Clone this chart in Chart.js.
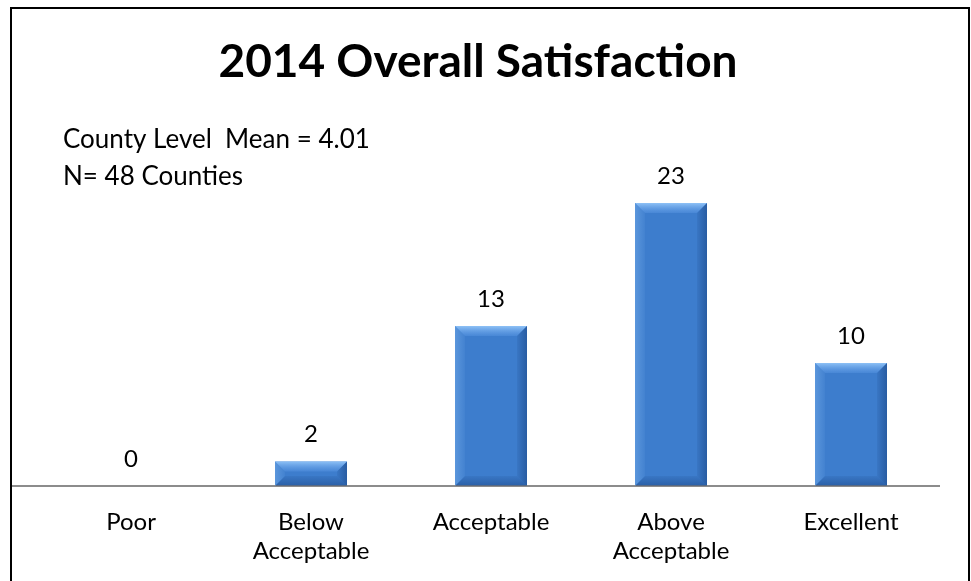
<!DOCTYPE html>
<html>
<head>
<meta charset="utf-8">
<script src="https://cdn.jsdelivr.net/npm/chart.js@4"></script>
<style>
  html, body { margin: 0; padding: 0; background: #fff; }
  #wrap { position: relative; width: 971px; height: 581px; }
</style>
</head>
<body>
<div id="wrap"><canvas id="satChart" width="971" height="581"></canvas></div>
<script>
// chart data
const categories = ['Poor', ['Below', 'Acceptable'], 'Acceptable', ['Above', 'Acceptable'], 'Excellent'];
const counts = [0, 2, 13, 23, 10];
const titleText = '2014 Overall Satisfaction';
const noteLines = ['County Level  Mean = 4.01', 'N= 48 Counties'];

const FONT = 'Lato, "Open Sans", sans-serif';

// frame, title, axis line, notes and value labels
const decorPlugin = {
  id: 'decor',
  beforeDraw(chart) {
    const c = chart.ctx;
    c.save();
    c.strokeStyle = '#000';
    c.lineWidth = 2;
    c.beginPath();
    c.moveTo(11, 600);
    c.lineTo(11, 8);
    c.lineTo(969, 8);
    c.lineTo(969, 600);
    c.stroke();

    // title, centred on the frame rather than the plot
    c.fillStyle = '#000';
    c.font = 'bold 46px ' + FONT;
    c.textAlign = 'center';
    c.textBaseline = 'middle';
    c.fillText(titleText, 478, 62);
    c.restore();
  },
  afterDatasetsDraw(chart) {
    const c = chart.ctx;
    const area = chart.chartArea;
    c.save();
    // axis line
    c.strokeStyle = '#8c8c8c';
    c.lineWidth = 2;
    c.beginPath();
    c.moveTo(12, area.bottom);
    c.lineTo(940, area.bottom);
    c.stroke();

    // bevels on each bar
    const meta = chart.getDatasetMeta(0);
    meta.data.forEach(bar => {
      const h = bar.base - bar.y;
      if (h <= 0) return;
      const l = bar.x - bar.width / 2, r = bar.x + bar.width / 2;
      const t = bar.y, b = bar.base;
      const e = Math.min(10, h / 2);
      let g = c.createLinearGradient(0, t, 0, t + e);
      g.addColorStop(0, 'rgba(150,200,250,0.9)');
      g.addColorStop(1, 'rgba(100,160,235,0.3)');
      c.fillStyle = g;
      c.beginPath();
      c.moveTo(l, t); c.lineTo(r, t); c.lineTo(r - e, t + e); c.lineTo(l + e, t + e); c.closePath();
      c.fill();
      g = c.createLinearGradient(l, 0, l + e, 0);
      g.addColorStop(0, 'rgba(120,175,235,0.5)');
      g.addColorStop(1, 'rgba(120,175,235,0.1)');
      c.fillStyle = g;
      c.beginPath();
      c.moveTo(l, t); c.lineTo(l + e, t + e); c.lineTo(l + e, b - e); c.lineTo(l, b); c.closePath();
      c.fill();
      g = c.createLinearGradient(r, 0, r - e, 0);
      g.addColorStop(0, 'rgba(20,60,120,0.5)');
      g.addColorStop(1, 'rgba(20,60,120,0.1)');
      c.fillStyle = g;
      c.beginPath();
      c.moveTo(r, t); c.lineTo(r - e, t + e); c.lineTo(r - e, b - e); c.lineTo(r, b); c.closePath();
      c.fill();
      g = c.createLinearGradient(0, b, 0, b - e);
      g.addColorStop(0, 'rgba(20,60,120,0.45)');
      g.addColorStop(1, 'rgba(20,60,120,0.1)');
      c.fillStyle = g;
      c.beginPath();
      c.moveTo(l, b); c.lineTo(l + e, b - e); c.lineTo(r - e, b - e); c.lineTo(r, b); c.closePath();
      c.fill();
    });

    // value labels
    c.fillStyle = '#000';
    c.font = '24px ' + FONT;
    c.textAlign = 'center';
    c.textBaseline = 'middle';
    meta.data.forEach((bar, i) => {
      c.fillText(String(counts[i]), bar.x, bar.y - 27);
    });

    // notes
    c.textAlign = 'left';
    c.font = '26px ' + FONT;
    noteLines.forEach((line, i) => {
      c.fillText(line, 63, 140 + i * 37);
    });
    c.restore();
  }
};

new Chart(document.getElementById('satChart'), {
  type: 'bar',
  data: {
    labels: categories,
    datasets: [{
      data: counts,
      backgroundColor: '#3d7dcd',
      borderWidth: 0,
      categoryPercentage: 1,
      barPercentage: 0.4
    }]
  },
  options: {
    responsive: false,
    animation: false,
    layout: { padding: { left: 41, right: 30, top: 117, bottom: 0 } },
    plugins: {
      legend: { display: false },
      tooltip: { enabled: false },
      title: { display: false }
    },
    scales: {
      x: {
        grid: { display: false },
        border: { display: false },
        ticks: {
          color: '#000',
          padding: 14,
          font: { family: FONT, size: 24, lineHeight: 1.2 },
          maxRotation: 0
        },
        afterFit(scale) { scale.height = 95; }
      },
      y: {
        display: false,
        min: 0,
        max: 30
      }
    }
  },
  plugins: [decorPlugin]
});
</script>
</body>
</html>
